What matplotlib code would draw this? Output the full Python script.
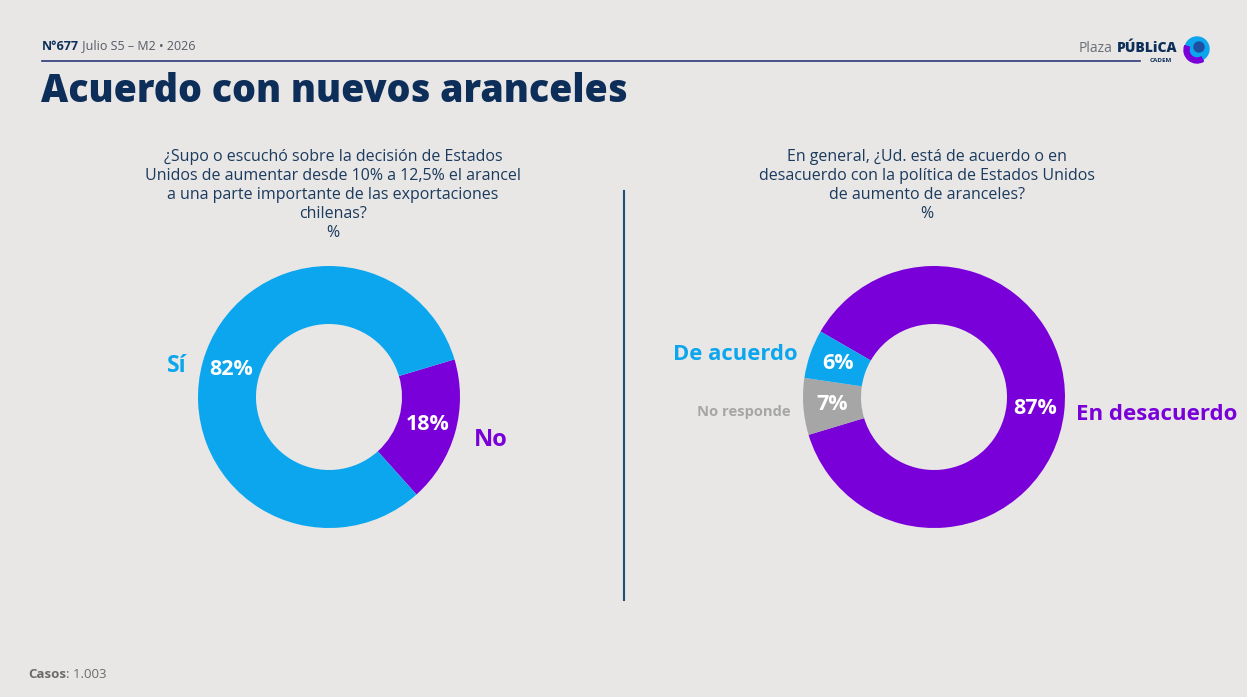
import matplotlib
matplotlib.use("Agg")
import matplotlib.pyplot as plt
import numpy as np
from matplotlib.patches import Circle, Wedge

# ---- data ----
q1_labels = ["No", "Sí"]
q1_values = [18, 82]
q2_labels = ["En desacuerdo", "No responde", "De acuerdo"]
q2_values = [87, 7, 6]

BG = "#E8E7E5"
BLUE = "#0BA6EE"
PURPLE = "#7A00D9"
GRAY = "#A6A6A6"
NAVY = "#0E2E5A"
QNAVY = "#1B3A5E"

q1_colors = [PURPLE, BLUE]
q2_colors = [PURPLE, GRAY, BLUE]

FONT = ["Open Sans", "DejaVu Sans"]
plt.rcParams['font.family'] = FONT

W, H = 1247, 697
fig = plt.figure(figsize=(W / 100, H / 100), dpi=100, facecolor=BG)
renderer = fig.canvas.get_renderer()

# overlay in pixel coordinates
ov = fig.add_axes([0, 0, 1, 1])
ov.set_xlim(0, W)
ov.set_ylim(H, 0)
ov.axis("off")
ov.set_zorder(0)


def chain(x, y, parts, fontsize):
    """Draw consecutive text runs starting at pixel x."""
    for txt, kw in parts:
        t = ov.text(x, y, txt, fontsize=fontsize, va="center", ha="left", **kw)
        bb = t.get_window_extent(renderer=renderer)
        x += bb.width
    return x


# header
chain(42, 46, [("N°677", dict(fontweight="bold", color=NAVY)),
               (" Julio S5 – M2 • 2026", dict(color="#555a66"))], 9)
ov.plot([42, 1140], [61, 61], color="#2B3A7A", lw=1.2)
ov.text(41, 91, "Acuerdo con nuevos aranceles", fontsize=27, fontweight="heavy",
        color=NAVY, va="center", ha="left")

# logo
ov.text(1177, 48, "PÚBLiCA", fontsize=10, fontweight="heavy", color=NAVY, va="center", ha="right")
ov.text(1112, 48, "Plaza", fontsize=10, color="#6b6e78", va="center", ha="right")
ov.text(1161, 61, "CADEM", fontsize=4.5, fontweight="bold", color=NAVY, va="center", ha="center")
ov.add_patch(Circle((1197, 49), 12, color=BLUE, zorder=3))
ov.add_patch(Wedge((1197, 50), 13, 60, 200, width=5, color=PURPLE, zorder=4))
ov.add_patch(Circle((1199, 47), 5, color="#1E4FA0", zorder=5))

# questions
q1_text = ("¿Supo o escuchó sobre la decisión de Estados\n"
           "Unidos de aumentar desde 10% a 12,5% el arancel\n"
           "a una parte importante de las exportaciones\n"
           "chilenas?\n%")
q2_text = ("En general, ¿Ud. está de acuerdo o en\n"
           "desacuerdo con la política de Estados Unidos\n"
           "de aumento de aranceles?\n%")
ov.text(333, 149, q1_text, fontsize=11.5, color=QNAVY, ha="center", va="top", linespacing=1.25)
ov.text(927, 149, q2_text, fontsize=11.5, color=QNAVY, ha="center", va="top", linespacing=1.25)

# divider
ov.plot([624, 624], [191, 600], color="#1F4F7A", lw=1.5)

# footer
chain(28, 675, [("Casos", dict(fontweight="bold", color="#6b6b6b")),
                (": 1.003", dict(color="#6b6b6b"))], 9.5)


def donut(cx, cy, r, values, colors, start):
    ax = fig.add_axes([(cx - r) / W, (H - cy - r) / H, 2 * r / W, 2 * r / H])
    ax.set_zorder(1)
    wedges, _ = ax.pie(values, colors=colors, startangle=start, counterclock=False,
                       radius=1, wedgeprops=dict(width=1 - 73 / 131, linewidth=0))
    ax.set_xlim(-1, 1)
    ax.set_ylim(-1, 1)
    ax.set_aspect("equal")
    ax.axis("off")
    for w, v in zip(wedges, values):
        mid = np.deg2rad((w.theta1 + w.theta2) / 2)
        ax.text(0.78 * np.cos(mid), 0.78 * np.sin(mid), f"{v}%", color="white",
                fontsize=15.5, fontweight="bold", ha="center", va="center")
    return ax


ax1 = donut(329, 397, 131, q1_values, q1_colors, 16.7)
ax2 = donut(934, 397, 131, q2_values, q2_colors, 150.0)

# outer category labels
ov.text(187, 366, q1_labels[1], fontsize=16.5, fontweight="bold", color=BLUE, ha="right", va="center")
ov.text(474, 440, q1_labels[0], fontsize=17, fontweight="bold", color=PURPLE, ha="left", va="center")
ov.text(798, 354, q2_labels[2], fontsize=15.8, fontweight="bold", color=BLUE, ha="right", va="center")
ov.text(791, 412, q2_labels[1], fontsize=10.6, fontweight="bold", color=GRAY, ha="right", va="center")
ov.text(1076, 414, q2_labels[0], fontsize=16, fontweight="bold", color=PURPLE, ha="left", va="center")

fig.savefig("out.png", dpi=100, facecolor=BG)
